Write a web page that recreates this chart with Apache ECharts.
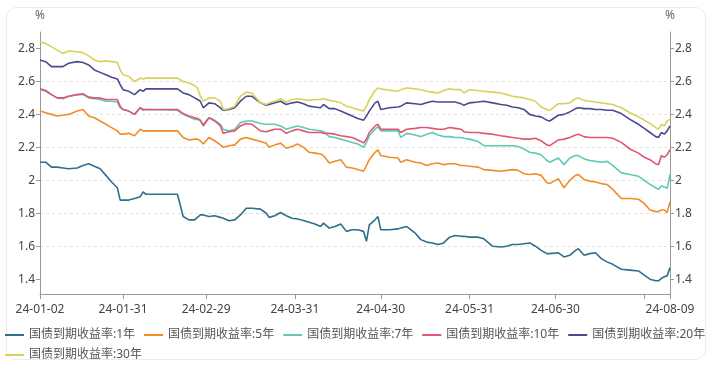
<!DOCTYPE html>
<html><head><meta charset="utf-8">
<script src="https://cdn.jsdelivr.net/npm/echarts@6/dist/echarts.min.js"></script>
<style>html,body{margin:0;padding:0;background:#fff}#c{width:712px;height:369px}</style>
</head><body><div id="c"></div><script>
const seriesNames = ['国债到期收益率:1年','国债到期收益率:5年','国债到期收益率:7年','国债到期收益率:10年','国债到期收益率:20年','国债到期收益率:30年'];
const dates = [
'2024-01-02','2024-01-04','2024-01-06','2024-01-08','2024-01-10','2024-01-12','2024-01-15','2024-01-17','2024-01-19','2024-01-21',
'2024-01-23','2024-01-25','2024-01-27','2024-01-29','2024-01-30','2024-01-31','2024-02-02','2024-02-04','2024-02-06','2024-02-07',
'2024-02-08','2024-02-19','2024-02-21','2024-02-23','2024-02-25','2024-02-26','2024-02-27','2024-02-28','2024-03-01','2024-03-03',
'2024-03-05','2024-03-06','2024-03-08','2024-03-10','2024-03-12','2024-03-14','2024-03-16','2024-03-19','2024-03-21','2024-03-22',
'2024-03-24','2024-03-26','2024-03-28','2024-03-30','2024-04-01','2024-04-03','2024-04-05','2024-04-07','2024-04-09','2024-04-10',
'2024-04-12','2024-04-14','2024-04-16','2024-04-18','2024-04-20','2024-04-22','2024-04-24','2024-04-25','2024-04-26','2024-04-28',
'2024-04-29','2024-04-30','2024-05-03','2024-05-06','2024-05-07','2024-05-09','2024-05-12','2024-05-14','2024-05-16','2024-05-18',
'2024-05-20','2024-05-22','2024-05-24','2024-05-26','2024-05-28','2024-05-29','2024-05-31','2024-06-03','2024-06-05','2024-06-08',
'2024-06-11','2024-06-13','2024-06-15','2024-06-17','2024-06-19','2024-06-21','2024-06-23','2024-06-25','2024-06-27','2024-06-28',
'2024-07-01','2024-07-03','2024-07-05','2024-07-07','2024-07-08','2024-07-10','2024-07-12','2024-07-14','2024-07-16','2024-07-18',
'2024-07-20','2024-07-23','2024-07-26','2024-07-29','2024-07-31','2024-08-02','2024-08-04','2024-08-05','2024-08-06','2024-08-07',
'2024-08-08','2024-08-09'];
const y1 = [
2.11,2.11,2.08,2.08,2.075,2.07,2.075,2.09,2.10,2.085,
2.07,2.03,1.99,1.955,1.88,1.88,1.88,1.89,1.90,1.93,
1.915,1.915,1.78,1.76,1.76,1.775,1.79,1.79,1.78,1.785,
1.775,1.77,1.755,1.76,1.79,1.83,1.83,1.825,1.80,1.775,
1.785,1.805,1.785,1.77,1.765,1.756,1.745,1.735,1.72,1.74,
1.71,1.72,1.735,1.69,1.70,1.70,1.69,1.63,1.73,1.76,
1.78,1.70,1.70,1.705,1.71,1.72,1.68,1.64,1.625,1.62,
1.61,1.62,1.655,1.665,1.66,1.66,1.655,1.655,1.645,1.60,
1.595,1.60,1.61,1.61,1.615,1.62,1.60,1.575,1.555,1.555,
1.56,1.535,1.545,1.575,1.585,1.545,1.555,1.56,1.525,1.505,
1.49,1.46,1.455,1.45,1.425,1.40,1.39,1.39,1.405,1.415,
1.42,1.47];
const y5 = [
2.42,2.41,2.40,2.39,2.395,2.40,2.42,2.43,2.39,2.38,
2.36,2.34,2.32,2.30,2.28,2.28,2.285,2.27,2.31,2.30,
2.30,2.30,2.26,2.245,2.25,2.25,2.24,2.22,2.26,2.24,
2.215,2.20,2.21,2.215,2.25,2.26,2.25,2.235,2.225,2.20,
2.215,2.225,2.195,2.205,2.22,2.20,2.17,2.165,2.16,2.15,
2.105,2.115,2.125,2.08,2.075,2.065,2.055,2.09,2.125,2.17,
2.185,2.15,2.14,2.135,2.11,2.125,2.11,2.105,2.09,2.10,
2.105,2.095,2.10,2.10,2.09,2.09,2.085,2.08,2.065,2.06,
2.055,2.06,2.065,2.06,2.04,2.035,2.04,2.03,1.985,1.98,
2.01,1.955,2.00,2.03,2.035,2.005,1.995,1.99,1.98,1.975,
1.945,1.89,1.89,1.885,1.86,1.82,1.81,1.81,1.82,1.82,
1.805,1.87];
const y7 = [
2.55,2.54,2.52,2.50,2.495,2.51,2.52,2.52,2.50,2.495,
2.49,2.48,2.48,2.475,2.44,2.43,2.42,2.40,2.44,2.425,
2.43,2.425,2.40,2.385,2.37,2.37,2.36,2.34,2.38,2.365,
2.34,2.31,2.30,2.31,2.35,2.36,2.36,2.345,2.34,2.34,
2.34,2.33,2.31,2.32,2.33,2.32,2.31,2.305,2.30,2.295,
2.265,2.26,2.25,2.24,2.23,2.22,2.20,2.23,2.27,2.31,
2.325,2.30,2.30,2.30,2.26,2.285,2.275,2.265,2.28,2.29,
2.275,2.265,2.265,2.26,2.26,2.255,2.25,2.235,2.21,2.21,
2.21,2.21,2.21,2.205,2.19,2.17,2.165,2.155,2.12,2.11,
2.135,2.095,2.135,2.15,2.15,2.13,2.12,2.115,2.11,2.115,
2.09,2.045,2.035,2.025,2.00,1.975,1.955,1.945,1.965,1.96,
1.95,2.035];
const y10 = [
2.555,2.545,2.52,2.50,2.50,2.51,2.52,2.525,2.505,2.50,
2.50,2.49,2.49,2.49,2.45,2.43,2.42,2.40,2.44,2.43,
2.43,2.43,2.405,2.39,2.38,2.375,2.365,2.33,2.38,2.36,
2.33,2.285,2.295,2.30,2.33,2.345,2.34,2.30,2.295,2.30,
2.31,2.31,2.285,2.30,2.31,2.30,2.29,2.29,2.29,2.285,
2.285,2.28,2.27,2.265,2.26,2.245,2.227,2.25,2.29,2.33,
2.34,2.31,2.31,2.31,2.29,2.31,2.315,2.32,2.32,2.315,
2.31,2.31,2.32,2.315,2.31,2.295,2.29,2.29,2.285,2.28,
2.27,2.265,2.26,2.255,2.25,2.25,2.255,2.24,2.215,2.21,
2.245,2.25,2.26,2.275,2.28,2.265,2.26,2.26,2.26,2.26,
2.255,2.23,2.19,2.165,2.14,2.125,2.10,2.095,2.15,2.14,
2.155,2.186];
const y20 = [
2.73,2.72,2.69,2.69,2.69,2.71,2.72,2.715,2.70,2.67,
2.655,2.64,2.625,2.615,2.58,2.55,2.54,2.52,2.55,2.54,
2.555,2.555,2.53,2.52,2.50,2.49,2.48,2.44,2.47,2.465,
2.44,2.425,2.43,2.44,2.48,2.51,2.51,2.47,2.455,2.46,
2.47,2.48,2.46,2.47,2.475,2.465,2.45,2.445,2.44,2.46,
2.435,2.435,2.42,2.405,2.39,2.375,2.365,2.39,2.42,2.47,
2.48,2.43,2.44,2.445,2.45,2.47,2.465,2.46,2.47,2.48,
2.475,2.475,2.475,2.475,2.465,2.455,2.47,2.475,2.48,2.47,
2.46,2.455,2.445,2.44,2.43,2.40,2.39,2.385,2.365,2.36,
2.395,2.40,2.415,2.435,2.44,2.435,2.435,2.43,2.43,2.425,
2.425,2.405,2.37,2.34,2.315,2.29,2.265,2.26,2.29,2.28,
2.30,2.33];
const y30 = [
2.84,2.83,2.81,2.79,2.77,2.785,2.78,2.775,2.755,2.73,
2.72,2.725,2.72,2.715,2.67,2.64,2.63,2.60,2.62,2.615,
2.62,2.62,2.60,2.59,2.575,2.56,2.51,2.48,2.50,2.50,
2.48,2.43,2.435,2.45,2.51,2.535,2.53,2.47,2.46,2.47,
2.48,2.495,2.475,2.49,2.495,2.49,2.485,2.49,2.49,2.495,
2.485,2.48,2.47,2.45,2.44,2.43,2.42,2.45,2.49,2.545,
2.56,2.555,2.547,2.54,2.55,2.56,2.555,2.55,2.54,2.535,
2.53,2.545,2.555,2.55,2.55,2.53,2.55,2.545,2.54,2.535,
2.53,2.52,2.51,2.505,2.50,2.49,2.48,2.445,2.43,2.425,
2.465,2.465,2.47,2.495,2.50,2.485,2.48,2.475,2.47,2.465,
2.46,2.44,2.41,2.385,2.365,2.345,2.32,2.31,2.34,2.33,
2.36,2.37];
const yTicks = [1.4,1.6,1.8,2.0,2.2,2.4,2.6,2.8];
const xLabelDates = ['2024-01-02','2024-01-31','2024-02-29','2024-03-31','2024-04-30','2024-05-31','2024-06-30','2024-08-09'];
const xTickDates = ['2024-01-02','2024-01-31','2024-02-29','2024-03-31','2024-04-30','2024-05-31','2024-06-30','2024-07-31','2024-08-09'];
const colors = ['#2f6f8c','#f28c28','#62c9b6','#e2566f','#4b4a8e','#d9d25a'];
const allY = [y1,y5,y7,y10,y20,y30];

const ts = s => echarts.number.parseDate(s).getTime();
const pad = n => (n<10?'0':'')+n;
const fmtDate = v => { const d = new Date(v); return String(d.getFullYear()).slice(2)+'-'+pad(d.getMonth()+1)+'-'+pad(d.getDate()); };
const FONT = "'Noto Sans','Noto Sans CJK SC',sans-serif";

const chart = echarts.init(document.getElementById('c'), null, {renderer:'canvas'});
const yAxisBase = (pos) => ({
  type:'value', position:pos, min:1.31, max:2.9, splitNumber:8, minInterval:0.2, maxInterval:0.2,
  name:'%', nameLocation:'end', nameGap:10,
  nameTextStyle:{color:'#666', fontSize:12, fontFamily:FONT, align:'center'},
  axisLine:{show:true, lineStyle:{color:'#999', width:1}},
  axisTick:{show:true, length:4, lineStyle:{color:'#999'}, customValues:yTicks},
  axisLabel:{color:'#444', fontSize:12, fontFamily:FONT, margin:5, customValues:yTicks,
    formatter: v => String(Math.round(v*10)/10)},
  splitLine:{show: pos==='left', showMinLine:false, showMaxLine:false, lineStyle:{color:'#e3e3e3', type:[3,3]}}
});
chart.setOption({
  animation:false,
  color:colors,
  graphic:[{type:'rect', shape:{x:6.5,y:7.5,width:699,height:352,r:10}, style:{fill:'none', stroke:'#ececec', lineWidth:1}, z:-10}],
  grid:{left:40, right:42, top:32, bottom:75, containLabel:false, outerBoundsMode:'none'},
  legend:[
    {data:seriesNames.slice(0,5), left:5, top:329, icon:'rect', itemWidth:19, itemHeight:2, itemGap:9, padding:0,
      textStyle:{fontSize:12, color:'#555', fontFamily:FONT}},
    {data:seriesNames.slice(5), left:5, top:349, icon:'rect', itemWidth:19, itemHeight:2, itemGap:9, padding:0,
      textStyle:{fontSize:12, color:'#555', fontFamily:FONT}}
  ],
  xAxis:{type:'value', min:ts('2024-01-02'), max:ts('2024-08-09'), scale:true,
    axisLine:{lineStyle:{color:'#999'}},
    axisTick:{show:true, length:5, lineStyle:{color:'#999'}, customValues:xTickDates.map(ts)},
    axisLabel:{color:'#444', fontSize:12, fontFamily:FONT, margin:10, customValues:xLabelDates.map(ts), formatter:fmtDate, hideOverlap:false},
    splitLine:{show:false}},
  yAxis:[yAxisBase('left'), yAxisBase('right')],
  series: allY.map((arr,i)=>({
    name:seriesNames[i], type:'line', yAxisIndex:0, showSymbol:false, symbol:'none',
    lineStyle:{width:1.6, color:colors[i]}, itemStyle:{color:colors[i]},
    data: dates.map((d,j)=>[ts(d), arr[j]])
  }))
});
</script></body></html>
